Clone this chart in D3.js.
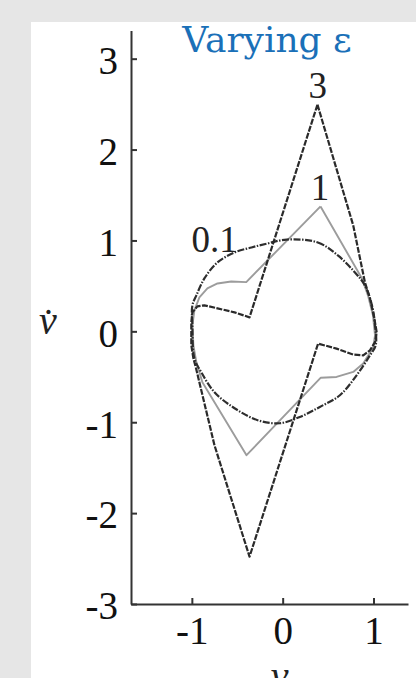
<!DOCTYPE html>
<html>
<head>
<meta charset="utf-8">
<script src="https://cdn.jsdelivr.net/npm/d3@7"></script>
<style>
  html, body { margin: 0; padding: 0; background: #e6e6e6; }
  svg { display: block; }
</style>
</head>
<body>
<main></main>
<script>
const width = 416;
const height = 678;

// limit cycles, [v, vdot]
const eps3 = [
  [0.383, 2.495], [0.777, 1.165], [0.906, 0.538], [0.961, 0.363], [1.009, 0.143],
  [1.035, -0.008], [1.017, -0.118], [0.961, -0.209], [0.887, -0.264], [0.777, -0.256],
  [0.593, -0.190], [0.390, -0.135], [-0.365, -2.480], [-0.751, -1.253], [-0.954, -0.407],
  [-0.983, -0.297], [-1.006, -0.154], [-1.006, 0.099], [-0.994, 0.209], [-0.939, 0.275],
  [-0.862, 0.286], [-0.718, 0.253], [-0.530, 0.209], [-0.365, 0.154], [0.383, 2.495]
];

const eps1 = [
  [0.417, 1.374], [0.873, 0.582], [0.939, 0.396], [0.994, 0.176], [1.017, -0.044],
  [0.994, -0.187], [0.943, -0.264], [0.887, -0.355], [0.777, -0.447], [0.593, -0.502],
  [0.420, -0.510], [-0.398, -1.363], [-0.884, -0.560], [-0.950, -0.341], [-0.983, -0.154],
  [-0.994, 0.066], [-0.972, 0.231], [-0.917, 0.374], [-0.829, 0.473], [-0.718, 0.527],
  [-0.567, 0.549], [-0.401, 0.542], [0.417, 1.374]
];

const eps01 = [
  [0.044, 1.010], [0.387, 0.978], [0.608, 0.835], [0.796, 0.648], [0.906, 0.505],
  [0.983, 0.286], [1.017, 0.066], [1.024, -0.154], [0.961, -0.264], [0.814, -0.484],
  [0.630, -0.703], [0.409, -0.832], [0.188, -0.942], [-0.033, -1.011], [-0.276, -0.978],
  [-0.530, -0.846], [-0.751, -0.670], [-0.898, -0.447], [-0.972, -0.297], [-0.994, 0.066],
  [-0.994, 0.286], [-0.950, 0.396], [-0.862, 0.582], [-0.718, 0.758], [-0.530, 0.868],
  [-0.343, 0.923], [-0.166, 0.967]
];

const curveLabels = [
  {text: "3", x: 0.387, y: 2.57},
  {text: "1", x: 0.41, y: 1.44},
  {text: "0.1", x: -0.75, y: 0.87}
];

const xTicks = [-1, 0, 1];
const yTicks = [-3, -2, -1, 0, 1, 2, 3];
const xDomain = [-1.67, 1.38];
const yDomain = [-3, 3.31];

const svg = d3.select('main')
              .append('svg')
              .attr('width', width)
              .attr('height', height);

// white panel
svg.append('rect')
   .attr('x', 31).attr('y', 22)
   .attr('width', width - 31).attr('height', height - 22)
   .attr('fill', '#fff');

const x = d3.scaleLinear().domain(xDomain).range([131, 408]);
const y = d3.scaleLinear().domain(yDomain).range([604, 30.5]);

const tickFont = '"Liberation Serif", "DejaVu Serif", serif';

const xAxis = svg.append('g')
                 .attr('transform', `translate(0, ${y(-3)})`)
                 .call(d3.axisBottom(x).tickValues(xTicks).tickFormat(d3.format('d'))
                        .tickSize(-6).tickSizeOuter(0).tickPadding(12));

const yAxis = svg.append('g')
                 .attr('transform', `translate(${x(xDomain[0])}, 0)`)
                 .call(d3.axisLeft(y).tickValues(yTicks).tickFormat(d3.format('d'))
                        .tickSize(-6).tickSizeOuter(0).tickPadding(13));

[xAxis, yAxis].forEach(ax => {
  ax.select('.domain').attr('stroke', '#333').attr('stroke-width', 2);
  ax.selectAll('.tick line').attr('stroke', '#333').attr('stroke-width', 2);
  ax.selectAll('.tick text')
    .attr('fill', '#111')
    .style('font-family', tickFont)
    .style('font-size', '39px');
});
// minus sign in the figure is a short hyphen
svg.selectAll('.tick text').text(d => String(d).replace('−', '-'));
yAxis.selectAll('.tick text').attr('dy', '0.38em');

// axis titles
svg.append('text')
   .attr('x', 48).attr('y', 334)
   .attr('text-anchor', 'middle')
   .style('font-family', tickFont)
   .style('font-style', 'italic')
   .style('font-size', '40px')
   .attr('fill', '#222')
   .text('v\u0307');

svg.append('text')
   .attr('x', x(0) - 3).attr('y', 689)
   .attr('text-anchor', 'middle')
   .style('font-family', tickFont)
   .style('font-style', 'italic')
   .style('font-size', '40px')
   .attr('fill', '#222')
   .text('v');

// title
svg.append('text')
   .attr('x', 267).attr('y', 52)
   .attr('text-anchor', 'middle')
   .style('font-family', '"DejaVu Serif", serif')
   .style('font-size', '36px')
   .attr('fill', '#1a70b8')
   .text('Varying \u03b5');

const line = d3.line().x(d => x(d[0])).y(d => y(d[1]));
const loop = d3.line().x(d => x(d[0])).y(d => y(d[1])).curve(d3.curveCatmullRomClosed.alpha(0.5));

const curves = svg.append('g').attr('fill', 'none').attr('stroke-linejoin', 'round');

curves.append('path')
      .attr('d', line(eps1))
      .attr('stroke', '#9c9c9c')
      .attr('stroke-width', 1.9);

curves.append('path')
      .attr('d', loop(eps01))
      .attr('stroke', '#2e2e2e')
      .attr('stroke-width', 2.2)
      .attr('stroke-dasharray', '7 1.5 1.5 1.5');

curves.append('path')
      .attr('d', line(eps3))
      .attr('stroke', '#2a2a2a')
      .attr('stroke-width', 2.2)
      .attr('stroke-dasharray', '6 1.4');

svg.append('g')
   .selectAll('text')
   .data(curveLabels)
   .enter()
   .append('text')
   .attr('x', d => x(d.x))
   .attr('y', d => y(d.y))
   .attr('text-anchor', 'middle')
   .style('font-family', tickFont)
   .style('font-size', '37px')
   .attr('fill', '#222')
   .text(d => d.text);
</script>
</body>
</html>
